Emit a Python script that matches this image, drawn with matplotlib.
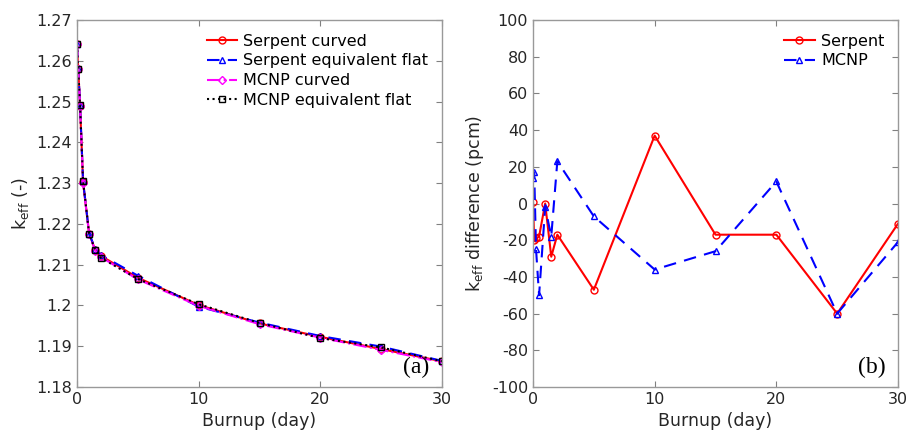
import matplotlib.pyplot as plt
from matplotlib.ticker import FuncFormatter

# burnup steps (day)
burnup = [0, 0.1, 0.25, 0.5, 1, 1.5, 2, 5, 10, 15, 20, 25, 30]

# k-eff values
serpent_curved = [1.2640, 1.2580, 1.2490, 1.2302, 1.2176, 1.2136, 1.2121, 1.2068, 1.2001, 1.1956, 1.1923, 1.1893, 1.1863]
serpent_flat = [1.2640, 1.2582, 1.2492, 1.2304, 1.2176, 1.2139, 1.2123, 1.2073, 1.1997, 1.1958, 1.1925, 1.1899, 1.1864]
mcnp_curved = [1.2641, 1.2581, 1.2488, 1.2300, 1.2175, 1.2134, 1.2118, 1.2064, 1.1999, 1.1954, 1.1921, 1.1891, 1.1861]
mcnp_flat = [1.2640, 1.2579, 1.2491, 1.2305, 1.2175, 1.2136, 1.2116, 1.2065, 1.2003, 1.1957, 1.1920, 1.1897, 1.1863]

# differences (pcm)
serpent_diff = [1, -20, -19, -18, 0, -29, -17, -47, 37, -17, -17, -60, -11]
mcnp_diff = [14, 17, -25, -50, -2, -18, 23, -7, -36, -26, 12, -60, -21]

plt.rcParams['font.family'] = 'DejaVu Sans'

fig = plt.figure(figsize=(9.1, 4.3), dpi=100)
W, H = 910, 430
ax1 = fig.add_axes([77 / W, 1 - 387 / H, (442 - 77) / W, (387 - 20) / H])
ax2 = fig.add_axes([533 / W, 1 - 387 / H, (898 - 533) / W, (387 - 20) / H])

matlab_fmt = FuncFormatter(lambda v, p: ('%g' % round(v, 6)))
DASH = (6, 4)


def style(ax):
    for s in ax.spines.values():
        s.set_color('0.6')
        s.set_linewidth(1.0)
    ax.tick_params(direction='in', top=True, right=True, length=4,
                   color='0.5', labelcolor='#262626', labelsize=11.5)
    ax.yaxis.set_major_formatter(matlab_fmt)
    ax.xaxis.set_major_formatter(matlab_fmt)


# panel (a)
ax1.plot(burnup, serpent_curved, '-', color='red', lw=1.5, marker='o', ms=5,
         mfc='none', mec='red', label='Serpent curved')
ax1.plot(burnup, serpent_flat, '--', dashes=DASH, color='blue', lw=1.5, marker='^', ms=5,
         mfc='none', mec='blue', label='Serpent equivalent flat')
ax1.plot(burnup, mcnp_curved, '-.', color='magenta', lw=1.5, marker='D', ms=4,
         mfc='none', mec='magenta', label='MCNP curved')
ax1.plot(burnup, mcnp_flat, ':', color='black', lw=1.5, marker='s', ms=4,
         mfc='none', mec='black', label='MCNP equivalent flat')
ax1.set_xlim(0, 30)
ax1.set_ylim(1.18, 1.27)
ax1.set_xticks([0, 10, 20, 30])
ax1.set_yticks([1.18, 1.19, 1.2, 1.21, 1.22, 1.23, 1.24, 1.25, 1.26, 1.27])
style(ax1)
ax1.set_xlabel('Burnup (day)', color='#262626', fontsize=12.5)
ax1.set_ylabel('k$_{\\rm eff}$ (-)', color='#262626', fontsize=12.5)
ax1.legend(loc='upper right', frameon=False, fontsize=11.5, handlelength=1.9,
           handletextpad=0.4, labelspacing=0.3, borderaxespad=0.45)
ax1.text(0.965, 0.025, '(a)', transform=ax1.transAxes, ha='right', va='bottom',
         family='Liberation Serif', fontsize=17)

# panel (b)
ax2.plot(burnup, serpent_diff, '-', color='red', lw=1.5, marker='o', ms=5,
         mfc='none', mec='red', label='Serpent')
ax2.plot(burnup, mcnp_diff, '--', dashes=DASH, color='blue', lw=1.5, marker='^', ms=5,
         mfc='none', mec='blue', label='MCNP')
ax2.set_xlim(0, 30)
ax2.set_ylim(-100, 100)
ax2.set_xticks([0, 10, 20, 30])
ax2.set_yticks(range(-100, 101, 20))
style(ax2)
ax2.set_xlabel('Burnup (day)', color='#262626', fontsize=12.5)
ax2.set_ylabel('k$_{\\rm eff}$ difference (pcm)', color='#262626', fontsize=12.5)
ax2.legend(loc='upper right', frameon=False, fontsize=11.5, handlelength=1.9,
           handletextpad=0.4, labelspacing=0.3, borderaxespad=0.45)
ax2.text(0.965, 0.025, '(b)', transform=ax2.transAxes, ha='right', va='bottom',
         family='Liberation Serif', fontsize=17)

fig.savefig('out.png', dpi=100)
